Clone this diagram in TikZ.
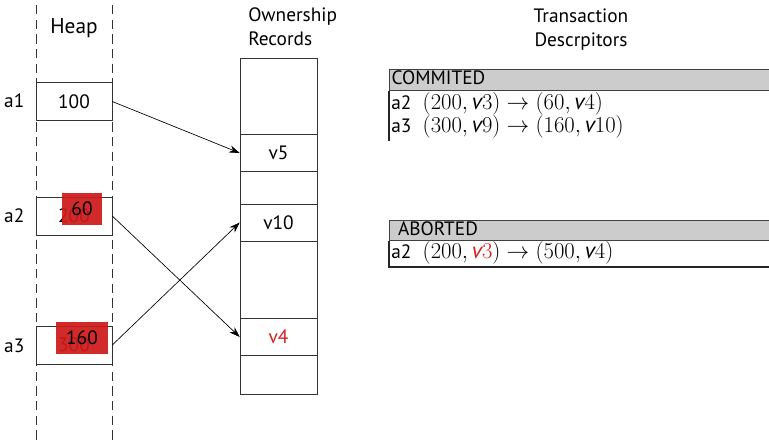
\RequirePackage{fix-cm}
\documentclass[tikz,border=0pt]{standalone}
\usepackage{fontspec}
\setmainfont{PT Sans}
\definecolor{txred}{RGB}{214,30,30}
\definecolor{ovred}{RGB}{206,26,26}
\definecolor{hdgray}{RGB}{204,204,204}
\usetikzlibrary{arrows.meta,positioning}

% one descriptor entry: address, then the old and new (value, version) pairs
\newcommand{\tdentry}[2]{#1\hspace{8.5pt}{\fontsize{17}{19}\selectfont $#2$}}

\begin{document}
\begin{tikzpicture}[x=0.75pt, y=-0.75pt,
    font=\fontsize{14.5}{18}\selectfont,
    heapcell/.style={draw=black!80, minimum width=57pt, minimum height=28.5pt, inner sep=0pt},
    orcell/.style={draw=black!80, minimum width=57.75pt, minimum height=28pt, inner sep=0pt},
    newval/.style={fill=ovred, fill opacity=0.93, text opacity=1, inner sep=0pt,
                   minimum height=24pt},
    ptr/.style={-{Stealth[length=8pt,width=5.5pt]}, line width=0.5pt},
    tdhead/.style={draw=black!75, line width=0.9pt, fill=hdgray, anchor=north west,
                   text width=297pt, minimum height=15pt, inner sep=1.5pt, align=left,
                   text height=10pt, text depth=2.5pt},
    tdrow/.style={anchor=west, inner sep=1.5pt}
  ]
    \useasboundingbox (0,0) rectangle (769,440);

    % heap column
    \draw[black!80, dash pattern=on 7pt off 4pt, line width=0.7pt] (36,5) -- (36,440);
    \draw[black!80, dash pattern=on 7pt off 4pt, line width=0.7pt] (112,5) -- (112,440);
    \node (heap) at (74,28) {\fontsize{16}{18}\selectfont Heap};

    \node[heapcell] (c1) at (74,101.5) {100};
    \node[heapcell] (c2) at (74,216) {200};
    \node[heapcell] (c3) at (74,345) {300};
    \node[anchor=east] (l1) at (29,101) {a1};
    \node[anchor=east] (l2) at (29,216) {a2};
    \node[anchor=east] (l3) at (29,346) {a3};

    % committed values written over the old ones
    \node[newval, minimum width=30pt] (n2) at (82,209) {60};
    \node[newval, minimum width=39pt] (n3) at (82,338) {160};

    % ownership records
    \node[anchor=north west, align=left, inner sep=0pt] (ortitle) at (248,7)
      {Ownership\\Records};
    \draw[black!80, line width=0.6pt] (240,58) rectangle (317,394);
    \node[orcell] (o5) at (278.5,153) {v5};
    \node[orcell] (o10) at (278.5,222.5) {v10};
    \node[orcell, text=txred] (o4) at (278.5,337) {v4};

    \draw[ptr] (c1.east) -- (o5.west);
    \draw[ptr] (c2.east) -- (o4.west);
    \draw[ptr] (c3.east) -- (o10.west);

    % transaction descriptors
    \node[align=center, inner sep=0pt] (tdtitle) at (581,30) {Transaction\\Descrpitors};

    \node[tdhead] (commit) at (389,69) {COMMITED};
    \node[tdrow] (cr1) at (389,104) {\tdentry{a2}{(200,\textit{v}3)\rightarrow(60,\textit{v}4)}};
    \node[tdrow] (cr2) at (389,127) {\tdentry{a3}{(300,\textit{v}9)\rightarrow(160,\textit{v}10)}};
    \draw[black!85, line width=0.9pt] (commit.south west) -- (389,141);

    \node[tdhead] (abort) at (389,219.5) {\ ABORTED};
    \node[tdrow] (ar1) at (389,253) {\tdentry{a2}{(200,\textcolor{txred}{\textit{v}3})\rightarrow(500,\textit{v}4)}};
    \draw[black!85, line width=0.9pt] (abort.south west) -- (389,267) -- (780,267);
  \end{tikzpicture}
\end{document}
